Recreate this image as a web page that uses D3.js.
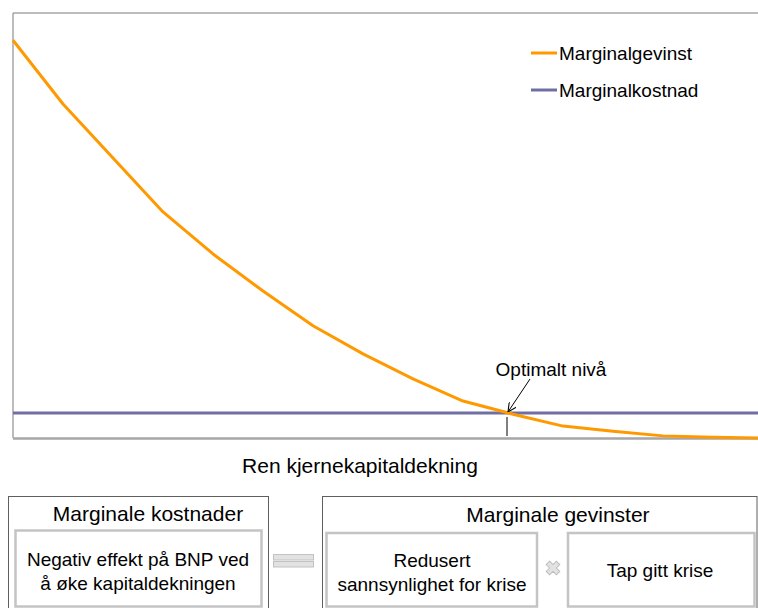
<!DOCTYPE html>
<html>
<head>
<meta charset="utf-8">
<script src="https://cdn.jsdelivr.net/npm/d3@7"></script>
<style>
  body { margin: 0; background: #fff; }
  svg { display: block; font-family: "Liberation Sans", Arial, sans-serif; }
</style>
</head>
<body>
<script>
// chart values (arbitrary units, 0..100)
const levels = [0, 1, 2, 3, 4, 5, 6, 7, 8, 9, 10, 11, 12, 13, 14, 14.9];
const gain = [93.6, 78.6, 65.9, 53.2, 43.3, 34.6, 26.4, 19.8, 13.9, 8.7, 5.6, 2.8, 1.6, 0.5, 0.2, 0];
const cost = [5.9, 5.9, 5.9, 5.9, 5.9, 5.9, 5.9, 5.9, 5.9, 5.9, 5.9, 5.9, 5.9, 5.9, 5.9, 5.9];
const optimum = 9.88;
const seriesNames = ["Marginalgevinst", "Marginalkostnad"];
const seriesColors = ["#ff9900", "#6f6fa5"];
const xLabel = "Ren kjernekapitaldekning";
const optLabel = "Optimalt nivå";

const width = 758, height = 608;
const svg = d3.select("body").append("svg")
  .attr("width", width).attr("height", height);

const x = d3.scaleLinear().domain([0, 14.9]).range([13, 758]);
const y = d3.scaleLinear().domain([0, 100]).range([438, 13]);

// frame (top, left, bottom)
const frame = "#a6a6a6";
svg.append("line").attr("x1", 13).attr("x2", width).attr("y1", 13).attr("y2", 13)
  .attr("stroke", frame).attr("stroke-width", 1.5);
svg.append("line").attr("x1", 13).attr("x2", 13).attr("y1", 13).attr("y2", 438)
  .attr("stroke", frame).attr("stroke-width", 1.5);
svg.append("line").attr("x1", 13).attr("x2", width).attr("y1", 438.5).attr("y2", 438.5)
  .attr("stroke", frame).attr("stroke-width", 2.5);

const line = d3.line().x((d, i) => x(levels[i])).y(d => y(d));

svg.append("path").datum(cost)
  .attr("d", line).attr("fill", "none")
  .attr("stroke", seriesColors[1]).attr("stroke-width", 3);
svg.append("path").datum(gain)
  .attr("d", line).attr("fill", "none")
  .attr("stroke", seriesColors[0]).attr("stroke-width", 3)
  .attr("stroke-linejoin", "round");

// optimum marker
const ox = x(optimum), oy = y(cost[0]);
svg.append("line").attr("x1", ox).attr("x2", ox).attr("y1", oy + 4).attr("y2", 436)
  .attr("stroke", "#000").attr("stroke-width", 1);

svg.append("defs").append("marker")
  .attr("id", "arrow")
  .attr("viewBox", "0 0 10 10")
  .attr("refX", 10).attr("refY", 5)
  .attr("markerWidth", 9).attr("markerHeight", 9)
  .attr("markerUnits", "userSpaceOnUse")
  .attr("orient", "auto")
  .append("path")
  .attr("d", "M 0 0 L 10 5 L 0 10")
  .attr("fill", "none").attr("stroke", "#000").attr("stroke-width", 1.2);

svg.append("line")
  .attr("x1", ox + 23).attr("y1", 379)
  .attr("x2", ox + 1).attr("y2", oy - 1)
  .attr("stroke", "#000").attr("stroke-width", 1)
  .attr("marker-end", "url(#arrow)");

svg.append("text").attr("x", 551).attr("y", 376)
  .attr("text-anchor", "middle").attr("font-size", 19).attr("fill", "#000")
  .text(optLabel);

// legend
const legend = svg.append("g");
seriesNames.forEach((name, i) => {
  const ly = 53 + i * 37;
  legend.append("line").attr("x1", 531).attr("x2", 557).attr("y1", ly).attr("y2", ly)
    .attr("stroke", seriesColors[i]).attr("stroke-width", 3);
  legend.append("text").attr("x", 559).attr("y", ly + 7)
    .attr("font-size", 19).attr("fill", "#000").text(name);
});

// x label
svg.append("text").attr("x", 360).attr("y", 473)
  .attr("text-anchor", "middle").attr("font-size", 21).attr("fill", "#000")
  .text(xLabel);

// bottom diagram
const outerStroke = "#5f5f5f", innerStroke = "#c4c4c4";
function box(x0, y0, x1, y1, stroke, sw) {
  svg.append("rect").attr("x", x0).attr("y", y0)
    .attr("width", x1 - x0).attr("height", y1 - y0)
    .attr("fill", "none").attr("stroke", stroke).attr("stroke-width", sw);
}
function label(lines, cx, y0, size) {
  lines.forEach((t, i) => {
    svg.append("text").attr("x", cx).attr("y", y0 + i * 24)
      .attr("text-anchor", "middle").attr("font-size", size).attr("fill", "#000")
      .text(t);
  });
}

box(8.5, 496.5, 268.5, 620, outerStroke, 1);
box(15.5, 530.5, 261.5, 606.5, innerStroke, 2.5);
label(["Marginale kostnader"], 148, 521, 21);
label(["Negativ effekt på BNP ved", "å øke kapitaldekningen"], 138, 566, 19);

box(322.5, 496.5, 757, 620, outerStroke, 1);
box(326.5, 533, 537, 606.5, innerStroke, 2.5);
box(568, 533, 754.5, 606.5, innerStroke, 2.5);
label(["Marginale gevinster"], 558, 522, 21);
label(["Redusert", "sannsynlighet for krise"], 432, 567, 19);
label(["Tap gitt krise"], 660, 577, 19);

// equals sign
[554, 561].forEach(by => {
  svg.append("rect").attr("x", 273.5).attr("y", by + 0.5).attr("width", 40).attr("height", 5.5)
    .attr("fill", "#e2e2e2").attr("stroke", "#c2c2c2").attr("stroke-width", 1);
});

// multiply sign
const cross = d3.symbol().type(d3.symbolCross).size(115);
svg.append("path").attr("d", cross())
  .attr("transform", "translate(553,568) rotate(45)")
  .attr("fill", "#e2e2e2").attr("stroke", "#bdbdbd").attr("stroke-width", 1);
</script>
</body>
</html>
